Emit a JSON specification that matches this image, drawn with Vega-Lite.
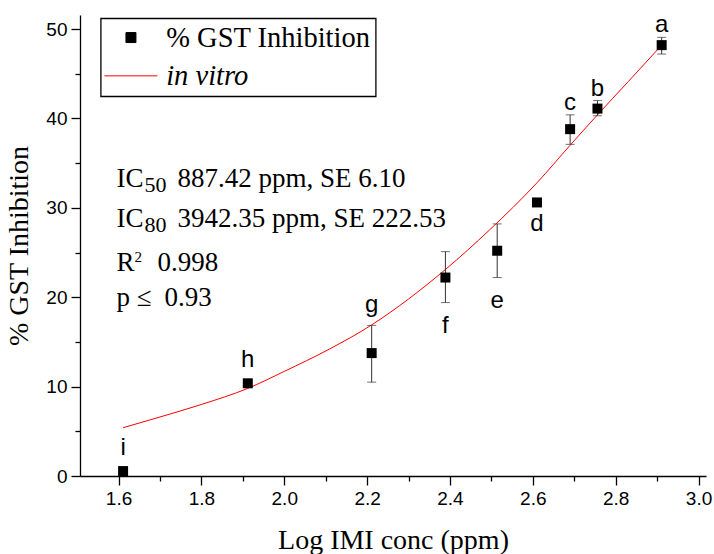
{
  "$schema": "https://vega.github.io/schema/vega-lite/v6.json",
  "width": 626,
  "height": 461,
  "autosize": "none",
  "padding": {"left": 80, "top": 15, "right": 8, "bottom": 78},
  "background": "white",
  "config": {
    "view": {"stroke": null},
    "axis": {
      "grid": false,
      "domainColor": "black",
      "domainWidth": 1.3,
      "tickColor": "black",
      "tickWidth": 1.3,
      "labelFont": "Liberation Sans",
      "labelFontSize": 19,
      "labelColor": "black",
      "labelFlush": false,
      "labelOverlap": false,
      "titleFont": "Liberation Serif",
      "titleFontSize": 28,
      "titleFontWeight": "normal",
      "titleColor": "black"
    }
  },
  "datasets": {
    "points": [
      {"logConc": 1.611, "inhibition": 0.55, "lower": null, "upper": null, "label": "i"},
      {"logConc": 1.912, "inhibition": 10.37, "lower": null, "upper": null, "label": "h"},
      {"logConc": 2.211, "inhibition": 13.75, "lower": 10.5, "upper": 16.85, "label": "g"},
      {"logConc": 2.389, "inhibition": 22.2, "lower": 19.4, "upper": 25.1, "label": "f"},
      {"logConc": 2.514, "inhibition": 25.2, "lower": 22.2, "upper": 28.2, "label": "e"},
      {"logConc": 2.61, "inhibition": 30.6, "lower": null, "upper": null, "label": "d"},
      {"logConc": 2.69, "inhibition": 38.8, "lower": 37.1, "upper": 40.4, "label": "c"},
      {"logConc": 2.756, "inhibition": 41.1, "lower": 40.3, "upper": 42.0, "label": "b"},
      {"logConc": 2.911, "inhibition": 48.2, "lower": 47.2, "upper": 49.07, "label": "a"}
    ],
    "fit": [
      {"logConc": 1.611, "inhibition": 5.4},
      {"logConc": 1.7, "inhibition": 6.6},
      {"logConc": 1.8, "inhibition": 8.0},
      {"logConc": 1.912, "inhibition": 9.8},
      {"logConc": 2.0, "inhibition": 11.7},
      {"logConc": 2.109, "inhibition": 14.2},
      {"logConc": 2.211, "inhibition": 16.9},
      {"logConc": 2.3, "inhibition": 19.8},
      {"logConc": 2.389, "inhibition": 23.1},
      {"logConc": 2.495, "inhibition": 27.5},
      {"logConc": 2.61, "inhibition": 32.8},
      {"logConc": 2.69, "inhibition": 37.0},
      {"logConc": 2.756, "inhibition": 40.4},
      {"logConc": 2.83, "inhibition": 44.1},
      {"logConc": 2.911, "inhibition": 48.2}
    ],
    "stats": [
      {"x": 1.595, "y": 32.38, "text": "IC"},
      {"x": 1.7422, "y": 32.38, "text": "887.42 ppm, SE 6.10"},
      {"x": 1.595, "y": 27.91, "text": "IC"},
      {"x": 1.7422, "y": 27.91, "text": "3942.35 ppm, SE 222.53"},
      {"x": 1.595, "y": 22.93, "text": "R"},
      {"x": 1.694, "y": 22.93, "text": "0.998"},
      {"x": 1.595, "y": 19.02, "text": "p ≤"},
      {"x": 1.7109, "y": 19.02, "text": "0.93"}
    ],
    "subs": [
      {"x": 1.6626, "y": 31.82, "text": "50"},
      {"x": 1.6626, "y": 27.35, "text": "80"}
    ],
    "sups": [
      {"x": 1.6384, "y": 23.94, "text": "2"}
    ]
  },
  "layer": [
    {
      "data": {"name": "fit"},
      "mark": {"type": "line", "strokeWidth": 1, "interpolate": "monotone"},
      "encoding": {
        "x": {
          "field": "logConc", "type": "quantitative",
          "scale": {"domain": [1.507, 3.018], "nice": false, "zero": false},
          "axis": {
            "title": "Log IMI conc (ppm)",
            "values": [1.6, 1.7, 1.8, 1.9, 2.0, 2.1, 2.2, 2.3, 2.4, 2.5, 2.6, 2.7, 2.8, 2.9, 3.0],
            "labelExpr": "round(datum.value*10) % 2 === 0 ? format(datum.value, '.1f') : ''",
            "tickSize": {"condition": {"test": "round(datum.value*10) % 2 === 0", "value": 9}, "value": 5},
            "labelPadding": 4,
            "titlePadding": 18
          }
        },
        "y": {
          "field": "inhibition", "type": "quantitative",
          "title": "% GST Inhibition",
          "scale": {"domain": [0, 51.57], "nice": false},
          "axis": {
            "values": [0, 5, 10, 15, 20, 25, 30, 35, 40, 45, 50],
            "labelExpr": "datum.value % 10 === 0 ? datum.label : ''",
            "tickSize": {"condition": {"test": "datum.value % 10 === 0", "value": 9}, "value": 5},
            "labelPadding": 4,
            "titlePadding": 12
          }
        },
        "color": {
          "datum": "in vitro",
          "type": "nominal",
          "scale": {"domain": ["% GST Inhibition", "in vitro"], "range": ["black", "red"]},
          "legend": {
            "title": null,
            "orient": "none",
            "legendX": 20.7,
            "legendY": 3.3,
            "strokeColor": "black",
            "padding": 5,
            "symbolOffset": 11,
            "labelOffset": 21,
            "rowPadding": 9.3,
            "labelFont": "Liberation Serif",
            "labelFontSize": 28.5,
            "labelColor": "black",
            "labelLimit": 400,
            "symbolSize": 100,
            "encode": {
              "legend": {"update": {"strokeWidth": {"value": 1.3}}},
              "symbols": {
                "update": {
                  "shape": {"signal": "datum.value === 'in vitro' ? 'M-5.3,0L5.3,0' : 'square'"},
                  "fill": {"signal": "datum.value === 'in vitro' ? 'transparent' : 'black'"},
                  "stroke": {"signal": "datum.value === 'in vitro' ? 'red' : 'transparent'"},
                  "strokeWidth": {"value": 1},
                  "opacity": {"value": 1}
                }
              },
              "labels": {
                "update": {
                  "fontStyle": {"signal": "datum.value === 'in vitro' ? 'italic' : 'normal'"}
                }
              }
            }
          }
        }
      }
    },
    {
      "data": {"name": "points"},
      "transform": [{"filter": "isValid(datum.lower)"}],
      "mark": {"type": "errorbar", "ticks": {"size": 9, "thickness": 1, "color": "#333"}, "rule": {"strokeWidth": 1, "color": "#333"}},
      "encoding": {
        "x": {"field": "logConc", "type": "quantitative"},
        "y": {"field": "lower", "type": "quantitative", "title": "% GST Inhibition"},
        "y2": {"field": "upper"}
      }
    },
    {
      "data": {"name": "points"},
      "mark": {"type": "point", "shape": "square", "filled": true, "size": 100, "opacity": 1},
      "encoding": {
        "x": {"field": "logConc", "type": "quantitative"},
        "y": {"field": "inhibition", "type": "quantitative", "title": "% GST Inhibition"},
        "color": {"datum": "% GST Inhibition", "type": "nominal"}
      }
    },
    {
      "data": {"name": "points"},
      "transform": [{"filter": "indexof(['a','b','c'], datum.label) >= 0"}],
      "mark": {"type": "text", "font": "Liberation Sans", "fontSize": 24, "color": "black", "baseline": "alphabetic", "align": "center", "dy": -5},
      "encoding": {
        "x": {"field": "logConc", "type": "quantitative"},
        "y": {"field": "upper", "type": "quantitative", "title": "% GST Inhibition"},
        "text": {"field": "label"}
      }
    },
    {
      "data": {"name": "points"},
      "transform": [{"filter": "datum.label === 'g'"}],
      "mark": {"type": "text", "font": "Liberation Sans", "fontSize": 24, "color": "black", "baseline": "alphabetic", "align": "center", "dy": -13},
      "encoding": {
        "x": {"field": "logConc", "type": "quantitative"},
        "y": {"field": "upper", "type": "quantitative", "title": "% GST Inhibition"},
        "text": {"field": "label"}
      }
    },
    {
      "data": {"name": "points"},
      "transform": [{"filter": "indexof(['h','i'], datum.label) >= 0"}],
      "mark": {"type": "text", "font": "Liberation Sans", "fontSize": 24, "color": "black", "baseline": "alphabetic", "align": "center", "dy": -16},
      "encoding": {
        "x": {"field": "logConc", "type": "quantitative"},
        "y": {"field": "inhibition", "type": "quantitative", "title": "% GST Inhibition"},
        "text": {"field": "label"}
      }
    },
    {
      "data": {"name": "points"},
      "transform": [{"filter": "indexof(['e','f'], datum.label) >= 0"}],
      "mark": {"type": "text", "font": "Liberation Sans", "fontSize": 24, "color": "black", "baseline": "alphabetic", "align": "center", "dy": 30},
      "encoding": {
        "x": {"field": "logConc", "type": "quantitative"},
        "y": {"field": "lower", "type": "quantitative", "title": "% GST Inhibition"},
        "text": {"field": "label"}
      }
    },
    {
      "data": {"name": "points"},
      "transform": [{"filter": "datum.label === 'd'"}],
      "mark": {"type": "text", "font": "Liberation Sans", "fontSize": 24, "color": "black", "baseline": "alphabetic", "align": "center", "dy": 29},
      "encoding": {
        "x": {"field": "logConc", "type": "quantitative"},
        "y": {"field": "inhibition", "type": "quantitative", "title": "% GST Inhibition"},
        "text": {"field": "label"}
      }
    },
    {
      "data": {"name": "stats"},
      "mark": {"type": "text", "font": "Liberation Serif", "fontSize": 27, "color": "black", "baseline": "alphabetic", "align": "left"},
      "encoding": {
        "x": {"field": "x", "type": "quantitative"},
        "y": {"field": "y", "type": "quantitative", "title": "% GST Inhibition"},
        "text": {"field": "text"}
      }
    },
    {
      "data": {"name": "subs"},
      "mark": {"type": "text", "font": "Liberation Serif", "fontSize": 22, "color": "black", "baseline": "alphabetic", "align": "left"},
      "encoding": {
        "x": {"field": "x", "type": "quantitative"},
        "y": {"field": "y", "type": "quantitative", "title": "% GST Inhibition"},
        "text": {"field": "text"}
      }
    },
    {
      "data": {"name": "sups"},
      "mark": {"type": "text", "font": "Liberation Serif", "fontSize": 15, "color": "black", "baseline": "alphabetic", "align": "left"},
      "encoding": {
        "x": {"field": "x", "type": "quantitative"},
        "y": {"field": "y", "type": "quantitative", "title": "% GST Inhibition"},
        "text": {"field": "text"}
      }
    }
  ]
}
